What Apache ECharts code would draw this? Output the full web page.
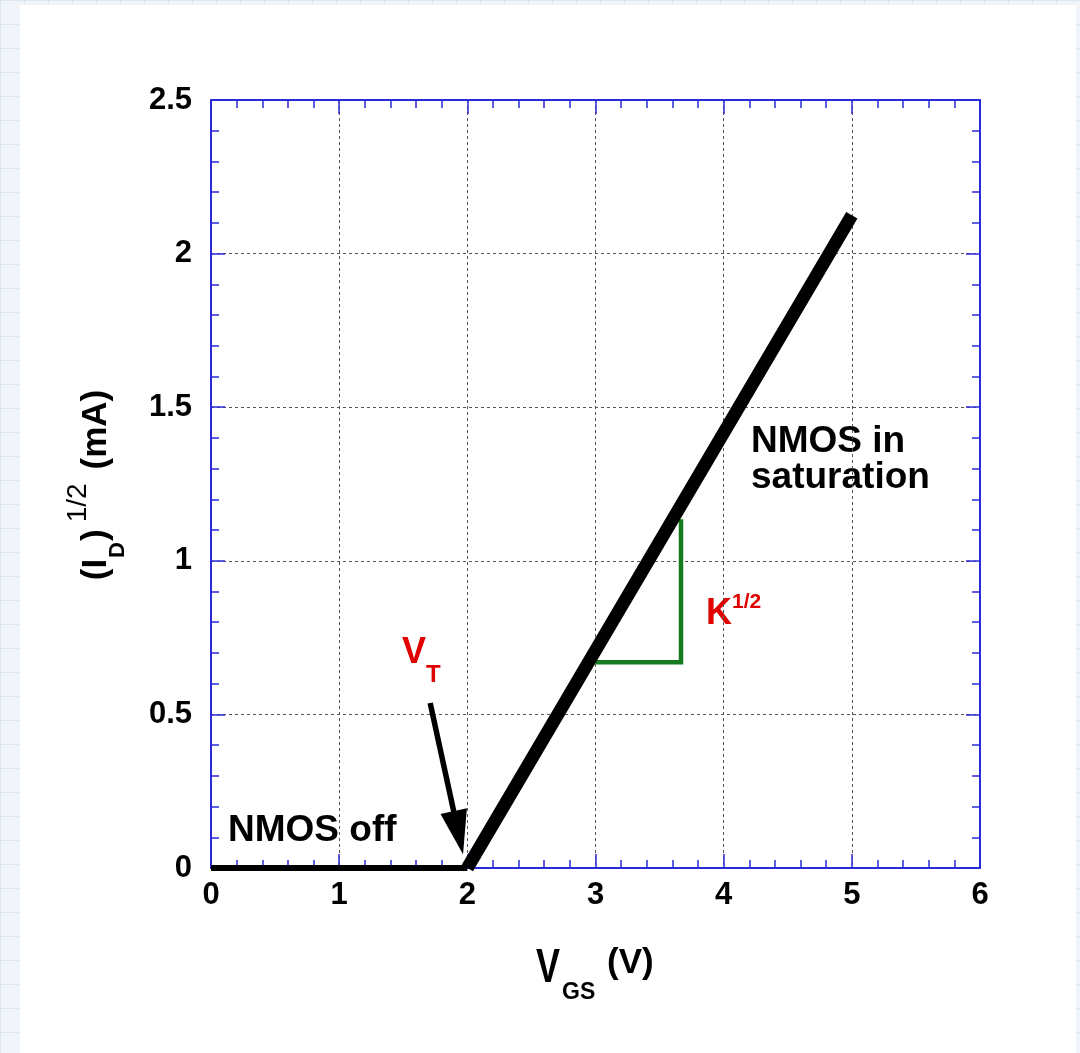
<!DOCTYPE html>
<html><head><meta charset="utf-8">
<script src="https://cdn.jsdelivr.net/npm/echarts@6/dist/echarts.min.js"></script>
<style>
html,body{margin:0;padding:0;width:1080px;height:1053px;overflow:hidden;
background-color:#f1f5f9;
background-image:linear-gradient(rgba(170,200,225,0.3) 1px,transparent 1px),linear-gradient(90deg,rgba(170,200,225,0.3) 1px,transparent 1px);
background-size:24px 24px;}
#card{position:absolute;left:20px;top:5px;width:1056px;height:1048px;background:#fff;}
#c{position:absolute;left:0;top:0;width:1080px;height:1053px;}
</style></head><body>
<div id="card"></div>
<div id="c"></div>
<script>
// Data
const xTicks = [0, 1, 2, 3, 4, 5, 6];
const yTicks = [0, 0.5, 1, 1.5, 2, 2.5];
const vgs = [0, 2, 5];
const sqrtId = [0, 0, 2.125];
const slopeX = [3, 3.667, 3.667];
const slopeY = [0.67, 0.67, 1.135];
const arrowFrom = [1.71, 0.537];
const arrowTo = [1.93, 0.115];

const chart = echarts.init(document.getElementById('c'), null, {renderer: 'canvas'});
const blue = '#2a2ad6';
const font = '"Liberation Sans", Arial, Helvetica, sans-serif';
const baseAxis = {
  type: 'value', interval: 1, min: 0, max: 6,
  axisLine: {show: true, onZero: false, lineStyle: {color: blue, width: 2}},
  axisTick: {show: true, inside: true, length: 14, lineStyle: {color: blue, width: 1.5}},
  minorTick: {show: true, splitNumber: 5, length: 8, lineStyle: {color: blue, width: 1.5}}
};
chart.setOption({
  animation: false,
  grid: {left: 211, right: 100, top: 100, bottom: 185},
  xAxis: [
    Object.assign({}, baseAxis, {
      position: 'bottom',
      axisLabel: {color: '#000', fontFamily: font, fontWeight: 'bold', fontSize: 31, margin: 12},
      splitLine: {show: true, lineStyle: {color: '#555', type: [3, 3], width: 1}}
    }),
    Object.assign({}, baseAxis, {
      position: 'top', axisLabel: {show: false}, splitLine: {show: false}
    })
  ],
  yAxis: [
    Object.assign({}, baseAxis, {
      min: 0, max: 2.5, interval: 0.5, position: 'left',
      axisLabel: {color: '#000', fontFamily: font, fontWeight: 'bold', fontSize: 31, margin: 19},
      splitLine: {show: true, lineStyle: {color: '#555', type: [3, 3], width: 1}}
    }),
    Object.assign({}, baseAxis, {
      min: 0, max: 2.5, interval: 0.5, position: 'right',
      axisLabel: {show: false}, splitLine: {show: false}
    })
  ],
  series: [
    {
      type: 'line', xAxisIndex: 0, yAxisIndex: 0,
      data: [[vgs[0], sqrtId[0]], [vgs[1], sqrtId[1]]],
      symbol: 'none', clip: false, z: 3,
      lineStyle: {color: '#000', width: 6}
    },
    {
      type: 'line', xAxisIndex: 0, yAxisIndex: 0,
      data: [[vgs[1], sqrtId[1]], [vgs[2], sqrtId[2]]],
      symbol: 'none', clip: false, z: 4,
      lineStyle: {color: '#000', width: 13, cap: 'butt'}
    },
    {
      type: 'line', xAxisIndex: 0, yAxisIndex: 0,
      data: slopeX.map((x, i) => [x, slopeY[i]]),
      symbol: 'none', z: 2,
      lineStyle: {color: '#167a1e', width: 4.5, join: 'miter'}
    },
    {
      type: 'line', xAxisIndex: 0, yAxisIndex: 0,
      data: [], symbol: 'none',
      markLine: {
        silent: true, animation: false,
        symbol: ['none', 'triangle'], symbolSize: [27, 44],
        lineStyle: {color: '#000', width: 5.5, type: 'solid'},
        label: {show: false},
        data: [[{coord: arrowFrom}, {coord: arrowTo}]]
      }
    }
  ],
  graphic: [
    {type: 'text', left: 228, top: 812, style: {text: 'NMOS off', font: 'bold 37px ' + font, fill: '#000'}},
    {type: 'text', left: 751, top: 423, style: {text: 'NMOS in\nsaturation', font: 'bold 37px ' + font, fill: '#000', lineHeight: 36}},
    {type: 'text', left: 402, top: 635, style: {
      rich: {
        v: {font: 'bold 36px ' + font, fill: '#e00000'},
        s: {font: 'bold 24px ' + font, fill: '#e00000', padding: [44, 0, 0, 0]}
      }, text: '{v|V}{s|T}'}},
    {type: 'text', left: 706, top: 592, style: {
      rich: {
        v: {font: 'bold 36px ' + font, fill: '#e00000', padding: [10, 0, 0, 0]},
        s: {font: 'bold 21px ' + font, fill: '#e00000', padding: [0, 0, 14, 0]}
      }, text: '{v|K}{s|1/2}'}},
    {type: 'text', left: 536, top: 944, scaleY: 1.35, style: {text: 'V', font: 'bold 36px ' + font, fill: '#000'}},
    {type: 'text', left: 562, top: 981, style: {text: 'GS', font: 'bold 23px ' + font, fill: '#000'}},
    {type: 'text', left: 607, top: 946, style: {text: '(V)', font: 'bold 35px ' + font, fill: '#000'}},
    {type: 'text', x: 96, y: 485, rotation: Math.PI / 2, style: {
      rich: {
        v: {font: 'bold 35px ' + font, fill: '#000'},
        s: {font: 'bold 22px ' + font, fill: '#000', padding: [44, 1, 0, 1]},
        u: {font: '28px ' + font, fill: '#000', padding: [0, 14, 36, 7]}
      }, text: '{v|(I}{s|D}{v|)}{u|1/2}{v|(mA)}', align: 'center', verticalAlign: 'middle'}}
  ]
});
</script>
</body></html>
